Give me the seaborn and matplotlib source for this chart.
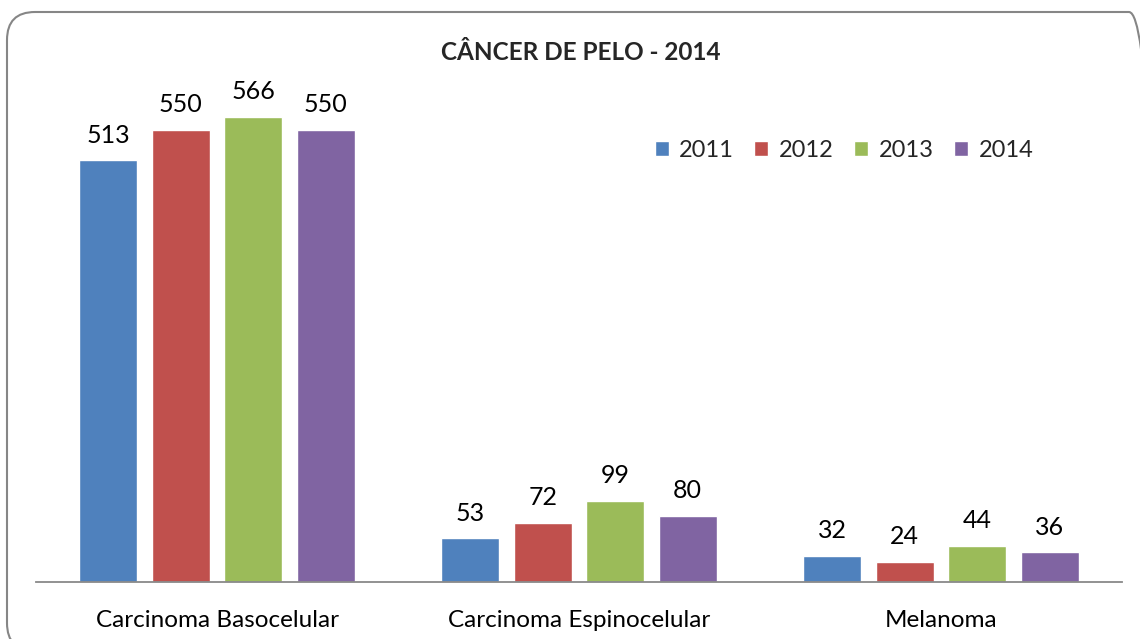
"""
Câncer de pele 2014 — grouped bar chart by type and year.
"""

import pandas as pd
import matplotlib.pyplot as plt
import seaborn as sns
from matplotlib.patches import FancyBboxPatch


CATEGORIES = ["Carcinoma Basocelular", "Carcinoma Espinocelular", "Melanoma"]
YEARS      = ["2011", "2012", "2013", "2014"]
VALS_2011  = [513, 53, 32]
VALS_2012  = [550, 72, 24]
VALS_2013  = [566, 99, 44]
VALS_2014  = [550, 80, 36]
COLORS     = ["#4F81BD", "#C0504D", "#9BBB59", "#8064A2"]


# ── Data ───────────────────────────────────────────────────────────────────────
rows = []
for year, vals in zip(YEARS, [VALS_2011, VALS_2012, VALS_2013, VALS_2014]):
    for cat, v in zip(CATEGORIES, vals):
        rows.append({"Tipo": cat, "Ano": year, "Casos": v})
df = pd.DataFrame(rows)

sns.set_theme(style="white")
plt.rcParams["font.family"] = ["Lato", "DejaVu Sans"]

# ── Figure ─────────────────────────────────────────────────────────────────────
fig = plt.figure(figsize=(11.4, 6.39), dpi=100)
ax = fig.add_axes([36 / 1140, 1 - 582 / 639, (1122 - 36) / 1140, 493 / 639])

sns.barplot(data=df, x="Tipo", y="Casos", hue="Ano", order=CATEGORIES,
            hue_order=YEARS, palette=COLORS, width=0.8, gap=0.2,
            saturation=1, ax=ax)

for cont in ax.containers:
    ax.bar_label(cont, fmt="%d", padding=10, fontsize=18, color="black")

ax.set_ylim(0, 600)
ax.set_xlim(-0.5, 2.5)
ax.set_xlabel(""); ax.set_ylabel("")
ax.set_yticks([])
ax.tick_params(axis="x", length=0, labelsize=17.5, pad=20, colors="black")
for side in ["top", "right", "left"]:
    ax.spines[side].set_visible(False)
ax.spines["bottom"].set_color("#898989")
ax.spines["bottom"].set_linewidth(1.3)

leg = ax.legend(loc="upper left", bbox_to_anchor=(0.55, 0.94), ncol=4,
                frameon=False, fontsize=17, handlelength=0.6, handleheight=0.6,
                handletextpad=0.45, columnspacing=0.85)

fig.text(581 / 1140, 1 - 52 / 639, "CÂNCER DE PELO - 2014", ha="center",
         va="center", fontsize=17.5, fontweight="bold")

# Rounded chart border in inches (runs past the right and bottom edges)
border = FancyBboxPatch((0.07, -0.12), 11.5, 6.39 - 0.12 + 0.12,
                        boxstyle="round,pad=0,rounding_size=0.28",
                        transform=fig.dpi_scale_trans, fill=False,
                        edgecolor="#868686", linewidth=1.5)
fig.patches.append(border)

fig.savefig("out.png", dpi=100)
